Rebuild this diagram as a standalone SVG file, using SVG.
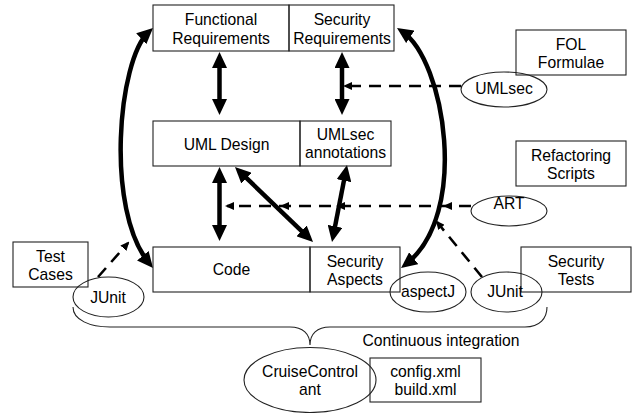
<svg xmlns="http://www.w3.org/2000/svg" width="633" height="413" viewBox="0 0 633 413">
<style>
text{font-family:"Liberation Sans",Arial,sans-serif;font-size:15.7px;fill:#000;text-anchor:middle}
.box{fill:none;stroke:#222;stroke-width:1.1}
.ell{fill:none;stroke:#222;stroke-width:1.1}
.thick{fill:none;stroke:#000;stroke-width:4.5;marker-start:url(#big);marker-end:url(#big)}
.dash{fill:none;stroke:#000;stroke-width:2.6;stroke-dasharray:12 8}
.brace{fill:none;stroke:#222;stroke-width:1.1}
</style>
<defs>
<marker id="big" markerUnits="userSpaceOnUse" markerWidth="16" markerHeight="15" refX="10" refY="7.5" orient="auto-start-reverse" viewBox="0 0 16 15">
<path d="M0,0 L16,7.5 L0,15 z" fill="#000"/>
</marker>
<marker id="small" markerUnits="userSpaceOnUse" markerWidth="9" markerHeight="8" refX="7" refY="4" orient="auto" viewBox="0 0 9 8">
<path d="M0,0 L9,4 L0,8 z" fill="#000"/>
</marker>
</defs>
<g id="connectors">
<line class="thick" x1="219.5" y1="58" x2="219.5" y2="109"/>
<line class="thick" x1="342" y1="58" x2="342" y2="109"/>
<line class="thick" x1="219.5" y1="173" x2="219.5" y2="235"/>
<line class="thick" x1="239.3" y1="171.2" x2="308.7" y2="237.8"/>
<line class="thick" x1="345.85" y1="170.9" x2="333.15" y2="236.1"/>
<path class="thick" d="M148.6,32 C118,60 105,210 149.2,263.4"/>
<path class="thick" d="M402,31.3 C445,60 470,215 405.8,264.3"/>
<path class="dash" d="M461,86 L345,86" marker-end="url(#small)"/>
<path class="dash" d="M471,206 L445,206 L338,206 L282,206 L227,206" marker-mid="url(#small)" marker-end="url(#small)"/>
<path class="dash" d="M98,277 L128,243" marker-end="url(#small)"/>
<path class="dash" d="M482,277 L437,222" marker-end="url(#small)"/>
<path class="brace" d="M73,307 C73,320 90,327 110,327 L290,327 C303,327 310,334 310,345 C310,334 317,327 330,327 L525,327 C540,327 547,318 547,307"/>
</g>
<g id="functional-requirements">
<rect class="box" x="153" y="5" width="136" height="46"/>
<text x="221" y="25">Functional</text>
<text x="221" y="44">Requirements</text>
</g>
<g id="security-requirements">
<rect class="box" x="289" y="5" width="105" height="46"/>
<text x="342" y="25">Security</text>
<text x="342" y="44">Requirements</text>
</g>
<g id="uml-design">
<rect class="box" x="153" y="121" width="147" height="45"/>
<text x="226.5" y="150">UML Design</text>
</g>
<g id="umlsec-annotations">
<rect class="box" x="300" y="121" width="91" height="45"/>
<text x="345.5" y="140">UMLsec</text>
<text x="345.5" y="158">annotations</text>
</g>
<g id="code">
<rect class="box" x="153" y="247" width="157" height="45"/>
<text x="231.5" y="275">Code</text>
</g>
<g id="security-aspects">
<rect class="box" x="310" y="247" width="90" height="45"/>
<text x="355" y="267">Security</text>
<text x="355" y="285">Aspects</text>
</g>
<g id="test-cases">
<rect class="box" x="13" y="242" width="75" height="45"/>
<text x="50.5" y="262">Test</text>
<text x="50.5" y="280">Cases</text>
</g>
<g id="fol-formulae">
<rect class="box" x="516" y="30" width="110" height="45"/>
<text x="571" y="50">FOL</text>
<text x="571" y="68">Formulae</text>
</g>
<g id="refactoring-scripts">
<rect class="box" x="516" y="141" width="110" height="45"/>
<text x="571" y="161">Refactoring</text>
<text x="571" y="179">Scripts</text>
</g>
<g id="security-tests">
<rect class="box" x="521" y="247" width="110" height="45"/>
<text x="576" y="267">Security</text>
<text x="576" y="285">Tests</text>
</g>
<g id="config-build">
<rect class="box" x="370" y="358" width="111" height="44"/>
<text x="425.5" y="377">config.xml</text>
<text x="425.5" y="395">build.xml</text>
</g>
<g id="umlsec">
<ellipse class="ell" cx="504" cy="89.5" rx="43" ry="17.5"/>
<text x="504" y="94">UMLsec</text>
</g>
<g id="art">
<ellipse class="ell" cx="509" cy="211" rx="38" ry="15"/>
<text x="509" y="209">ART</text>
</g>
<g id="junit-left">
<ellipse class="ell" cx="108.5" cy="297" rx="35.5" ry="20"/>
<text x="108" y="303">JUnit</text>
</g>
<g id="aspectj">
<ellipse class="ell" cx="428" cy="292" rx="38" ry="20"/>
<text x="428" y="297">aspectJ</text>
</g>
<g id="junit-right">
<ellipse class="ell" cx="506.5" cy="292" rx="35.5" ry="20"/>
<text x="505" y="297">JUnit</text>
</g>
<g id="cruisecontrol">
<ellipse class="ell" cx="310" cy="380" rx="66" ry="32.5"/>
<text x="310" y="377">CruiseControl</text>
<text x="310" y="395">ant</text>
</g>
<g id="ci-label">
<text x="441" y="346">Continuous integration</text>
</g>
</svg>
